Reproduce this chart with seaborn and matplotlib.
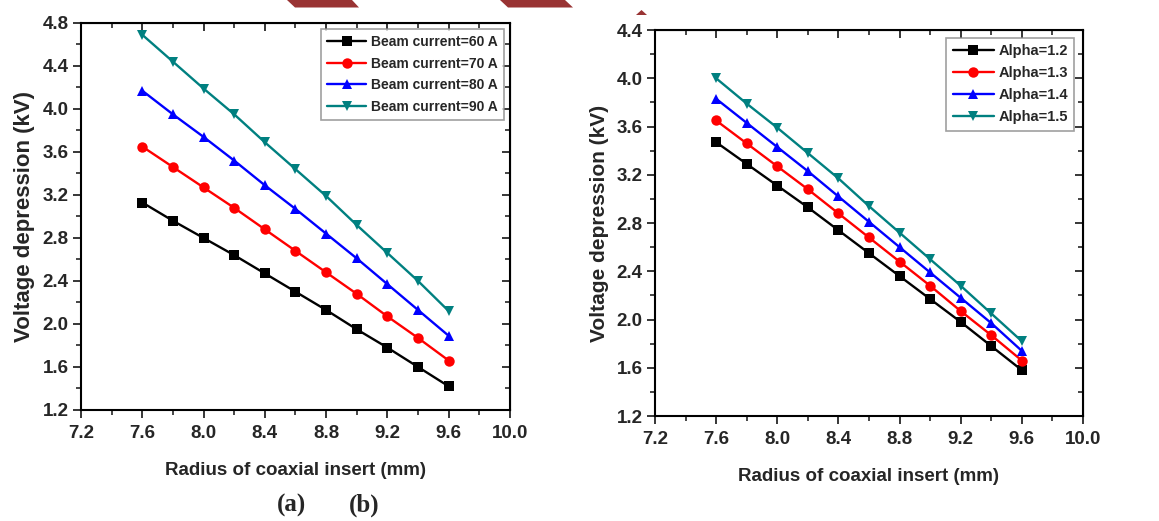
import numpy as np
import pandas as pd
import matplotlib
matplotlib.use("Agg")
import matplotlib.pyplot as plt
import seaborn as sns
from matplotlib.ticker import MultipleLocator, AutoMinorLocator
from matplotlib.patches import Polygon

radius = [7.6, 7.8, 8.0, 8.2, 8.4, 8.6, 8.8, 9.0, 9.2, 9.4, 9.6]

# panel (a): beam current
beam_labels = ["Beam current=60 A", "Beam current=70 A",
               "Beam current=80 A", "Beam current=90 A"]
beam_60 = [3.13, 2.96, 2.80, 2.64, 2.47, 2.30, 2.13, 1.95, 1.78, 1.60, 1.42]
beam_70 = [3.65, 3.46, 3.27, 3.08, 2.88, 2.68, 2.48, 2.28, 2.07, 1.87, 1.66]
beam_80 = [4.17, 3.95, 3.74, 3.52, 3.29, 3.07, 2.84, 2.61, 2.37, 2.13, 1.89]
beam_90 = [4.69, 4.44, 4.19, 3.95, 3.69, 3.44, 3.19, 2.92, 2.66, 2.40, 2.12]

# panel (b): alpha
alpha_labels = ["Alpha=1.2", "Alpha=1.3", "Alpha=1.4", "Alpha=1.5"]
alpha_12 = [3.47, 3.29, 3.11, 2.93, 2.74, 2.55, 2.36, 2.17, 1.98, 1.78, 1.58]
alpha_13 = [3.65, 3.46, 3.27, 3.08, 2.88, 2.68, 2.48, 2.28, 2.07, 1.87, 1.66]
alpha_14 = [3.83, 3.63, 3.43, 3.23, 3.02, 2.81, 2.60, 2.39, 2.18, 1.97, 1.74]
alpha_15 = [4.00, 3.79, 3.59, 3.38, 3.17, 2.94, 2.72, 2.50, 2.28, 2.05, 1.82]

colors = ["#000000", "#ff0000", "#0000ff", "#008080"]
markers = ["s", "o", "^", "v"]

sns.set_style("ticks")
plt.rcParams["font.family"] = ["Liberation Sans", "DejaVu Sans"]
plt.rcParams["font.weight"] = "bold"


def draw_panel(ax, labels, series, ylim, legend_anchor, ylab_size, leg_size):
    for lab, vals, c, m in zip(labels, series, colors, markers):
        df = pd.DataFrame({"r": radius, "v": vals})
        sns.lineplot(data=df, x="r", y="v", ax=ax, color=c, marker=m,
                     markersize=7.5, markeredgewidth=0, linewidth=1.7, label=lab)

    ax.set_xlim(7.2, 10.0)
    ax.set_ylim(*ylim)
    ax.xaxis.set_major_locator(MultipleLocator(0.4))
    ax.yaxis.set_major_locator(MultipleLocator(0.4))
    ax.xaxis.set_minor_locator(AutoMinorLocator(2))
    ax.yaxis.set_minor_locator(AutoMinorLocator(2))
    ax.xaxis.set_major_formatter(plt.FormatStrFormatter("%.1f"))
    ax.yaxis.set_major_formatter(plt.FormatStrFormatter("%.1f"))
    ax.tick_params(which="major", direction="out", length=6, width=1.3,
                   labelsize=13.5, pad=3)
    ax.tick_params(axis="x", which="major", pad=5)
    ax.tick_params(which="minor", direction="out", length=3.5, width=1.2)
    for s in ax.spines.values():
        s.set_visible(True)
        s.set_linewidth(1.5)
        s.set_color("black")

    top = ax.secondary_xaxis("top")
    right = ax.secondary_yaxis("right")
    top.xaxis.set_major_locator(MultipleLocator(0.4))
    top.xaxis.set_minor_locator(AutoMinorLocator(2))
    right.yaxis.set_major_locator(MultipleLocator(0.4))
    right.yaxis.set_minor_locator(AutoMinorLocator(2))
    top.tick_params(which="major", direction="in", length=6, width=1.3, labeltop=False)
    top.tick_params(which="minor", direction="in", length=3.5, width=1.2)
    right.tick_params(which="major", direction="in", length=6, width=1.3, labelright=False)
    right.tick_params(which="minor", direction="in", length=3.5, width=1.2)

    ax.set_xlabel("Radius of coaxial insert (mm)", fontsize=13.5,
                  fontweight="bold", labelpad=14)
    ax.set_ylabel("Voltage depression (kV)", fontsize=ylab_size,
                  fontweight="bold", labelpad=5)

    leg = ax.legend(loc="upper right", bbox_to_anchor=legend_anchor,
                    fontsize=leg_size, frameon=True, fancybox=False,
                    handlelength=2.8, handletextpad=0.3, borderpad=0.45,
                    labelspacing=0.55, borderaxespad=0)
    leg.get_frame().set_edgecolor("#888888")
    leg.get_frame().set_linewidth(1.2)
    for t in leg.get_texts():
        t.set_fontweight("bold")


fig = plt.figure(figsize=(11.59, 5.21), dpi=100)
ax1 = fig.add_axes([0.0699, 0.2131, 0.3701, 0.7428])
ax2 = fig.add_axes([0.5651, 0.2015, 0.3693, 0.7409])

draw_panel(ax1, beam_labels, [beam_60, beam_70, beam_80, beam_90],
           (1.2, 4.8), (0.985, 0.985), 16, 10)
draw_panel(ax2, alpha_labels, [alpha_12, alpha_13, alpha_14, alpha_15],
           (1.2, 4.4), (0.98, 0.98), 15, 10.5)

fig.text(0.239, 0.018, "(a)", fontsize=18, fontweight="bold",
         family=["Liberation Serif", "DejaVu Serif"], ha="left")
fig.text(0.301, 0.018, "(b)", fontsize=18, fontweight="bold",
         family=["Liberation Serif", "DejaVu Serif"], ha="left")

# dark red header shapes at the top edge of the page
W, H = 1159.0, 521.0
shape_px = [
    [(287, 0), (352, 0), (359, 7.5), (295, 7.5)],
    [(500, 0), (565, 0), (573, 7.5), (508, 7.5)],
    [(636, 15), (647, 15), (641.5, 10)],
]
for pts in shape_px:
    poly = Polygon([(x / W, 1 - y / H) for x, y in pts], closed=True,
                   transform=fig.transFigure, facecolor="#993333",
                   edgecolor="none")
    fig.patches.append(poly)

fig.savefig("out.png", dpi=100)
